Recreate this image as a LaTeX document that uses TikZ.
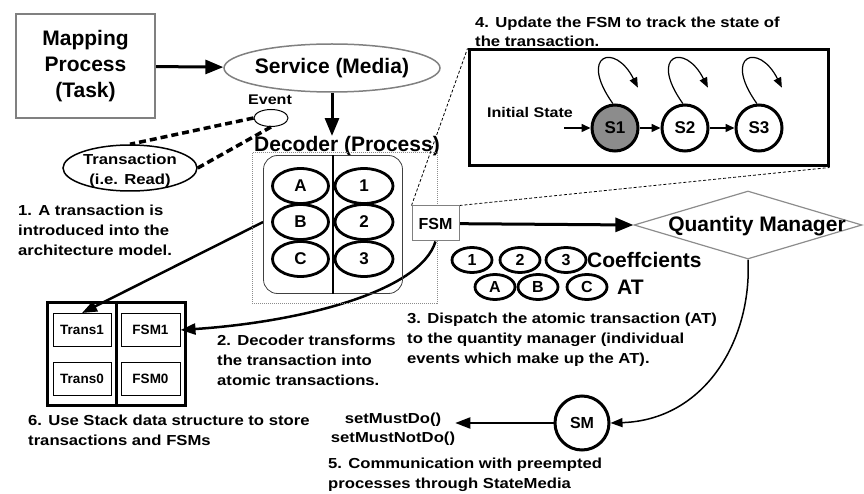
\documentclass[tikz,border=0pt]{standalone}
\usepackage{fontspec}
\setmainfont{Liberation Sans}
\newfontfamily\widefont{Liberation Sans}[FakeStretch=1.15]
\usetikzlibrary{shapes.geometric,arrows.meta}
\pgfdeclarelayer{bg}
\pgfsetlayers{bg,main}
\newcommand{\fbig}{\fontsize{21}{26}\selectfont\bfseries}
\newcommand{\fnote}{\widefont\fontsize{14.5}{20}\selectfont\bfseries}
\newcommand{\fsmall}{\fontsize{13.5}{13.5}\selectfont\bfseries}
\tikzset{
    gbox/.style={rectangle, draw=black!50, line width=1.5pt, inner sep=0pt},
    kbox/.style={rectangle, draw, line width=1pt, inner sep=0pt, minimum width=58pt, minimum height=33pt, font=\fsmall},
    oval/.style={ellipse, draw, line width=2.8pt, inner sep=0pt, minimum width=56pt, minimum height=35pt, font=\fontsize{17}{17}\selectfont\bfseries},
    coef/.style={ellipse, draw, line width=2.8pt, inner sep=0pt, minimum width=40pt, minimum height=25pt, font=\fontsize{16}{16}\selectfont\bfseries},
    stnode/.style={circle, draw, line width=3pt, inner sep=0pt, minimum size=46pt, font=\fontsize{17}{17}\selectfont\bfseries},
    big/.style={inner sep=0pt, align=center, font=\fbig},
    note/.style={inner sep=0pt, align=left, anchor=north west, font=\fnote},
    fatarrow/.style={line width=3pt, -{Triangle[length=18pt, width=14pt]}},
    midarrow/.style={line width=2.5pt, -{Triangle[length=15pt, width=11pt]}},
    slimarrow/.style={line width=1.5pt, -{Triangle[length=12pt, width=9pt]}},
    stedge/.style={line width=1.5pt, -{Triangle[length=9pt, width=8pt]}},
    loopline/.style={line width=1.2pt, -{Triangle[length=10pt, width=8pt]}},
    link/.style={densely dashed, line width=0.8pt},
    heavydash/.style={line width=3.5pt, dash pattern=on 7pt off 4pt}
}

\begin{document}
\begin{tikzpicture}[x=1pt, y=-1pt]
    \useasboundingbox (0,0) rectangle (864,494);

    \node (map) [gbox, big, minimum width=139pt, minimum height=104pt] at (85.5, 66) {Mapping\\Process\\(Task)};
    \node (svc) [ellipse, draw=black!50, line width=1.5pt, big, inner xsep=-3pt, minimum width=216pt, minimum height=48pt] at (332, 68) {Service (Media)};
    \node (evtxt) [font=\widefont\fontsize{14}{14}\selectfont\bfseries] at (270, 100) {Event};
    \node (event) [ellipse, draw, line width=1pt, minimum width=34pt, minimum height=17pt] at (271, 118) {};
    \node (trans) [ellipse, draw, line width=1.5pt, minimum width=134pt, minimum height=46pt] at (130, 168) {};
    \node (transtxt) [note, anchor=center, align=center] at (130, 171) {Transaction\\(i.e. Read)};

    \node (dectitle) [big] at (347, 146) {Decoder (Process)};
    \node (decoder) [rectangle, draw=black!45, densely dotted, line width=1pt, minimum width=185pt, minimum height=150pt] at (344.5, 228) {};
    \node (decround) [rectangle, rounded corners=14pt, draw=black!75, line width=0.8pt, minimum width=139pt, minimum height=138pt] at (333, 224.5) {};
    \draw [line width=2.5pt] (decround.north) -- (decround.south);
    \node (ea) [oval] at (300.5, 186) {A};
    \node (eb) [oval] at (300.5, 222) {B};
    \node (ec) [oval] at (300.5, 259) {C};
    \node (e1) [oval, minimum width=58pt] at (364, 186) {1};
    \node (e2) [oval, minimum width=58pt] at (364, 222) {2};
    \node (e3) [oval, minimum width=58pt] at (364, 259) {3};
    \node (fsm) [gbox, line width=1pt, fill=white, minimum width=47pt, minimum height=35pt, font=\fontsize{16}{16}\selectfont\bfseries] at (435.5, 223.5) {FSM};

    \node (stack) [rectangle, draw, line width=3pt, minimum width=138pt, minimum height=103pt] at (116, 353.5) {};
    \draw [line width=3pt] (stack.north) -- (stack.south);
    \node (trans1) [kbox] at (82, 330) {Trans1};
    \node (fsm1) [kbox, minimum width=59pt] at (150.5, 330) {FSM1};
    \node (trans0) [kbox] at (82, 379) {Trans0};
    \node (fsm0) [kbox, minimum width=59pt] at (150.5, 379) {FSM0};

    \node (fsmbox) [rectangle, draw, line width=3pt, minimum width=359pt, minimum height=116pt] at (648.5, 108) {};
    \node (inittxt) [font=\widefont\fontsize{14}{14}\selectfont\bfseries] at (530, 112) {Initial State};
    \coordinate (init) at (564, 128);
    \node (s1) [stnode, fill=black!45] at (615, 128) {S1};
    \node (s2) [stnode] at (685, 128) {S2};
    \node (s3) [stnode] at (759, 128) {S3};

    \node (qm) [diamond, draw=black!45, line width=1.2pt, inner sep=0pt, minimum width=228pt, minimum height=68pt] at (748, 225) {};
    \node (qmtxt) [big] at (757, 226) {Quantity Manager};

    \node (k1) [coef] at (472, 260) {1};
    \node (k2) [coef] at (520, 260) {2};
    \node (k3) [coef] at (566, 260) {3};
    \node (coeftxt) [big, anchor=west] at (587, 260) {Coeffcients};
    \node (ka) [coef] at (495, 287) {A};
    \node (kb) [coef] at (538, 287) {B};
    \node (kc) [coef] at (587, 287) {C};
    \node (attxt) [big, anchor=west] at (617, 287) {AT};

    \node (sm) [circle, draw, line width=3pt, inner sep=0pt, minimum size=54pt, font=\fontsize{16}{16}\selectfont\bfseries] at (582, 423) {SM};
    \node (must) [note, anchor=center, align=center, font=\fnote\fontsize{14.5}{19}\selectfont] at (393, 429) {setMustDo()\\setMustNotDo()};

    % numbered notes
    \node (note1) [note] at (18, 205) {1. A transaction is\\introduced into the\\architecture model.};
    \node (note2) [note] at (217, 335) {2. Decoder transforms\\the transaction into\\atomic transactions.};
    \node (note3) [note] at (407, 313) {3. Dispatch the atomic transaction (AT)\\to the quantity manager (individual\\events which make up the AT).};
    \node (note4) [note, font=\fnote\fontsize{14.5}{19}\selectfont] at (475, 17) {4. Update the FSM to track the state of\\the transaction.};
    \node (note5) [note] at (328, 458) {5. Communication with preempted\\processes through StateMedia};
    \node (note6) [note] at (28, 415) {6. Use Stack data structure to store\\transactions and FSMs};

    \begin{pgfonlayer}{bg}
        \draw (map) edge [fatarrow] (svc);
        \draw (svc.south) edge [fatarrow] (svc.south |- dectitle.north);
        \draw (fsm) edge [fatarrow] (qm.west);

        \draw (event.west) edge [heavydash] (trans.north);
        \draw (event.south) edge [heavydash] (trans.east);

        \draw (fsm.north west) edge [link] (fsmbox.north west);
        \draw (fsm.north east) edge [link] (fsmbox.south east);

        \draw (decround.west |- eb.west) edge [midarrow] (trans1.north);
        \draw [midarrow] (fsm.south) .. controls (420, 292) and (300, 322) .. (fsm1.east);

        \draw [slimarrow] (qm.south) .. controls (752, 340) and (705, 420) .. (sm.east);
        \draw (sm.west) edge [midarrow, line width=2pt] (sm.west -| must.east);

        \draw (init) edge [stedge] (s1);
        \draw (s1) edge [stedge] (s2);
        \draw (s2) edge [stedge] (s3);
        \draw [loopline] (s1.95) .. controls +(-35, -49) and +(-23, -46) .. +(25, -16);
        \draw [loopline] (s2.95) .. controls +(-35, -49) and +(-23, -46) .. +(25, -16);
        \draw [loopline] (s3.95) .. controls +(-35, -49) and +(-23, -46) .. +(25, -16);
    \end{pgfonlayer}
\end{tikzpicture}
\end{document}
